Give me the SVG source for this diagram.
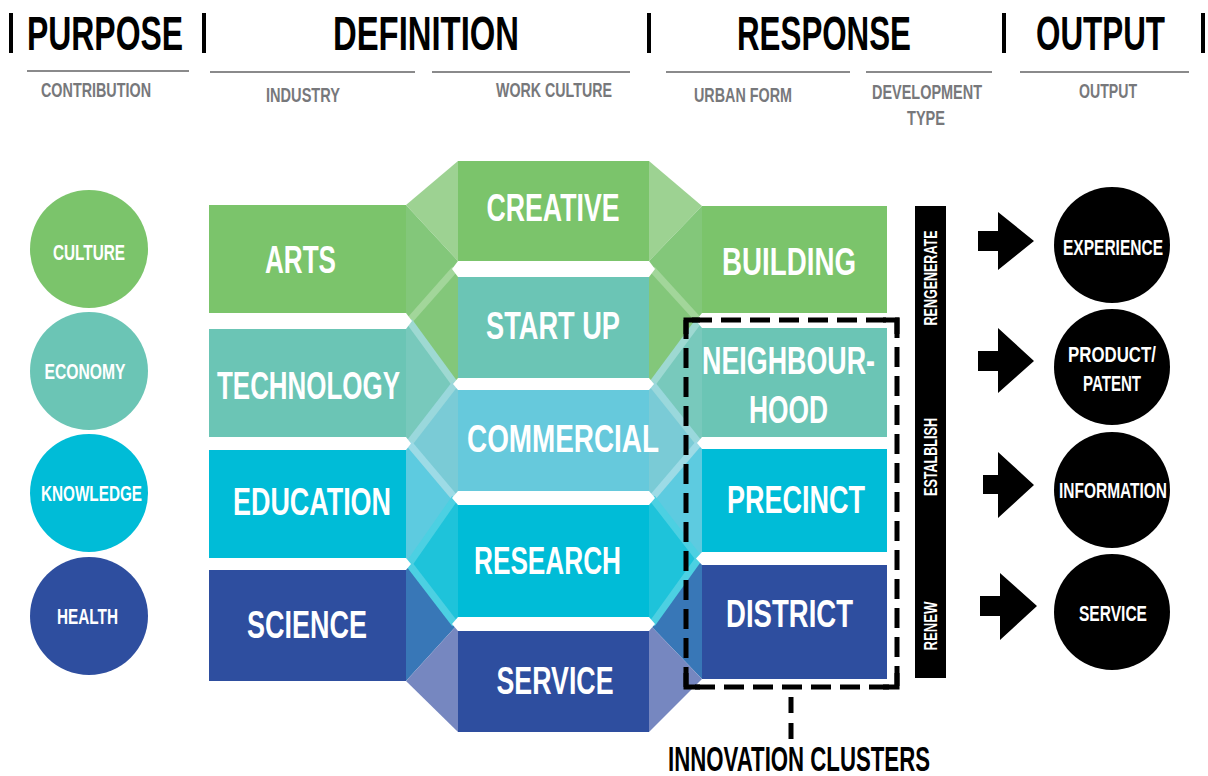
<svg xmlns="http://www.w3.org/2000/svg" width="1208" height="776" viewBox="0 0 1208 776">
<style>
text{font-family:"Liberation Sans",Arial,sans-serif;font-weight:bold;}
.h{font-size:49px;fill:#000;}
.s{font-size:21px;fill:#77787b;}
.b{font-size:38px;fill:#fff;text-anchor:middle;}
.c{font-size:22px;fill:#fff;text-anchor:middle;}
.r{font-size:18px;fill:#fff;text-anchor:middle;}
.rule{stroke:#8a8a8b;stroke-width:2;}
.g{fill:#7bc46b;}.t{fill:#6bc5b5;}.m{fill:#66c9dc;}.y{fill:#00bcd7;}.n{fill:#2e4e9f;}
.st{stroke-width:7;fill:none;}
.dash{fill:none;stroke:#000;stroke-width:5;}
</style>
<rect width="1208" height="776" fill="#fff"/>

<g id="header">
  <rect x="9" y="13" width="4" height="40" fill="#000"/>
  <rect x="202" y="13" width="4" height="40" fill="#000"/>
  <rect x="647" y="13" width="4" height="40" fill="#000"/>
  <rect x="1002" y="13" width="4" height="40" fill="#000"/>
  <rect x="1201" y="13" width="4" height="40" fill="#000"/>
  <text class="h" x="27" y="50" textLength="156" lengthAdjust="spacingAndGlyphs">PURPOSE</text>
  <text class="h" x="333" y="50" textLength="186" lengthAdjust="spacingAndGlyphs">DEFINITION</text>
  <text class="h" x="737" y="50" textLength="174" lengthAdjust="spacingAndGlyphs">RESPONSE</text>
  <text class="h" x="1036" y="50" textLength="129" lengthAdjust="spacingAndGlyphs">OUTPUT</text>
  <line class="rule" x1="27" y1="71" x2="189" y2="71"/>
  <line class="rule" x1="210" y1="72" x2="415" y2="72"/>
  <line class="rule" x1="432" y1="72" x2="630" y2="72"/>
  <line class="rule" x1="666" y1="72" x2="850" y2="72"/>
  <line class="rule" x1="866" y1="72" x2="992" y2="72"/>
  <line class="rule" x1="1020" y1="72" x2="1189" y2="72"/>
  <text class="s" x="41" y="97" textLength="110" lengthAdjust="spacingAndGlyphs">CONTRIBUTION</text>
  <text class="s" x="266" y="102" textLength="74" lengthAdjust="spacingAndGlyphs">INDUSTRY</text>
  <text class="s" x="496" y="97" textLength="116" lengthAdjust="spacingAndGlyphs">WORK CULTURE</text>
  <text class="s" x="694" y="102" textLength="98" lengthAdjust="spacingAndGlyphs">URBAN FORM</text>
  <text class="s" x="872" y="99" textLength="110" lengthAdjust="spacingAndGlyphs">DEVELOPMENT</text>
  <text class="s" x="907" y="125" textLength="38" lengthAdjust="spacingAndGlyphs">TYPE</text>
  <text class="s" x="1079" y="98" textLength="58" lengthAdjust="spacingAndGlyphs">OUTPUT</text>
</g>

<g id="purpose">
  <g id="culture"><circle class="g" cx="89" cy="249" r="59"/><text class="c" x="89" y="260" textLength="72" lengthAdjust="spacingAndGlyphs">CULTURE</text></g>
  <g id="economy"><circle class="t" cx="89" cy="371" r="59"/><text class="c" x="85" y="379" textLength="81" lengthAdjust="spacingAndGlyphs">ECONOMY</text></g>
  <g id="knowledge"><circle class="y" cx="89" cy="493" r="59"/><text class="c" x="91.5" y="501" textLength="101" lengthAdjust="spacingAndGlyphs">KNOWLEDGE</text></g>
  <g id="health"><circle class="n" cx="89" cy="616" r="59"/><text class="c" x="87.5" y="624" textLength="61" lengthAdjust="spacingAndGlyphs">HEALTH</text></g>
</g>

<g id="connectors">
  <!-- left wedges -->
  <polygon points="406,205 458,161 458,261" fill="#9dd292"/>
  <polygon points="406,205 458,261 458,269 406,321" fill="#83c77a"/>
  <polygon points="406,321 458,269 458,384" fill="#83c77a"/>
  <polygon points="406,321 458,384 406,443.5" fill="#78c9bc"/>
  <polygon points="406,443.5 458,384 458,498" fill="#7acbd6"/>
  <polygon points="406,443.5 458,498 406,564" fill="#5dcbe0"/>
  <polygon points="406,564 458,498 458,624" fill="#1ec3da"/>
  <polygon points="406,564 458,624 406,681" fill="#3877b7"/>
  <polygon points="406,681 458,624 458,732" fill="#7687c0"/>
  <!-- right wedges -->
  <polygon points="649,161 702,206 649,261" fill="#9dd292"/>
  <polygon points="649,261 702,206 702,320.5 649,269" fill="#83c77a"/>
  <polygon points="649,269 702,320.5 649,384" fill="#83c77a"/>
  <polygon points="649,384 702,320.5 702,443" fill="#78c9bc"/>
  <polygon points="649,384 702,443 649,498" fill="#7acbd6"/>
  <polygon points="649,498 702,443 702,558.5" fill="#5dcbe0"/>
  <polygon points="649,498 702,558.5 649,624" fill="#1ec3da"/>
  <polygon points="649,624 702,558.5 702,679" fill="#3877b7"/>
  <polygon points="649,624 702,679 649,732" fill="#7687c0"/>
  <!-- stripes -->
  <line class="st" x1="409" y1="321" x2="455" y2="269" stroke="#a2d69a"/>
  <line class="st" x1="409" y1="321" x2="455" y2="384" stroke="#9ed9d2"/>
  <line class="st" x1="409" y1="443.5" x2="455" y2="384" stroke="#9ad8dc"/>
  <line class="st" x1="409" y1="443.5" x2="455" y2="498" stroke="#9ddbe6"/>
  <line class="st" x1="409" y1="564" x2="455" y2="498" stroke="#4cd0e2"/>
  <line class="st" x1="409" y1="564" x2="455" y2="624" stroke="#4cd0e2"/>
  <line class="st" x1="652" y1="269" x2="699" y2="320.5" stroke="#a2d69a"/>
  <line class="st" x1="699" y1="320.5" x2="652" y2="384" stroke="#9ed9d2"/>
  <line class="st" x1="652" y1="384" x2="699" y2="443" stroke="#9ad8dc"/>
  <line class="st" x1="699" y1="443" x2="652" y2="498" stroke="#9ddbe6"/>
  <line class="st" x1="652" y1="498" x2="699" y2="558.5" stroke="#4cd0e2"/>
  <line class="st" x1="699" y1="558.5" x2="652" y2="624" stroke="#4cd0e2"/>
  <!-- white notches -->
  <g fill="#fff">
    <polygon points="406,313 412,321 406,329"/>
    <polygon points="406,437 411,443.5 406,450"/>
    <polygon points="406,558 411,564 406,570"/>
    <polygon points="458,261 452,269 458,277"/>
    <polygon points="458,378 453,384 458,390"/>
    <polygon points="458,491 452,498 458,505"/>
    <polygon points="458,617 452,624 458,631"/>
    <polygon points="649,261 655,269 649,277"/>
    <polygon points="649,378 654,384 649,390"/>
    <polygon points="649,491 655,498 649,505"/>
    <polygon points="649,617 655,624 649,631"/>
    <polygon points="702,313 696,320.5 702,328"/>
    <polygon points="702,437 697,443 702,449"/>
    <polygon points="702,552 696,558.5 702,565"/>
  </g>
  <!-- output arrows -->
  <g fill="#000">
    <polygon points="978,231 998,231 998,212 1034,241 998,270 998,251 978,251"/>
    <polygon points="978,351 998,351 998,328 1034,361 998,393 998,371 978,371"/>
    <polygon points="983,475 998,475 998,452 1034,485 998,518 998,494 983,494"/>
    <polygon points="980,596 1000,596 1000,573 1037,606 1000,640 1000,616 980,616"/>
  </g>
  <line x1="791" y1="697" x2="791" y2="741" stroke="#000" stroke-width="5" stroke-dasharray="16 10"/>
</g>

<g id="industry">
  <g id="arts"><rect class="g" x="209" y="205" width="197" height="108"/><text class="b" x="300.5" y="273" textLength="71" lengthAdjust="spacingAndGlyphs">ARTS</text></g>
  <g id="technology"><rect class="t" x="209" y="329" width="197" height="108"/><text class="b" x="308.5" y="399" textLength="183" lengthAdjust="spacingAndGlyphs">TECHNOLOGY</text></g>
  <g id="education"><rect class="y" x="209" y="450" width="197" height="108"/><text class="b" x="312" y="515" textLength="158" lengthAdjust="spacingAndGlyphs">EDUCATION</text></g>
  <g id="science"><rect class="n" x="209" y="570" width="197" height="111"/><text class="b" x="307" y="638" textLength="120" lengthAdjust="spacingAndGlyphs">SCIENCE</text></g>
</g>

<g id="work-culture">
  <g id="creative"><rect class="g" x="458" y="161" width="191" height="100"/><text class="b" x="553" y="221" textLength="133" lengthAdjust="spacingAndGlyphs">CREATIVE</text></g>
  <g id="start-up"><rect class="t" x="458" y="277" width="191" height="101"/><text class="b" x="553" y="339" textLength="134" lengthAdjust="spacingAndGlyphs">START UP</text></g>
  <g id="commercial"><rect class="m" x="458" y="390" width="191" height="101"/><text class="b" x="563" y="452" textLength="192" lengthAdjust="spacingAndGlyphs">COMMERCIAL</text></g>
  <g id="research"><rect class="y" x="458" y="505" width="191" height="112"/><text class="b" x="547.5" y="574" textLength="147" lengthAdjust="spacingAndGlyphs">RESEARCH</text></g>
  <g id="service-wc"><rect class="n" x="458" y="631" width="191" height="101"/><text class="b" x="555" y="694" textLength="117" lengthAdjust="spacingAndGlyphs">SERVICE</text></g>
</g>

<g id="urban-form">
  <g id="building"><rect class="g" x="702" y="206" width="185" height="107"/><text class="b" x="789" y="275" textLength="134" lengthAdjust="spacingAndGlyphs">BUILDING</text></g>
  <g id="neighbourhood"><rect class="t" x="702" y="328" width="185" height="109"/><text class="b" x="788.5" y="374" textLength="173" lengthAdjust="spacingAndGlyphs">NEIGHBOUR-</text><text class="b" x="788.5" y="423" textLength="79" lengthAdjust="spacingAndGlyphs">HOOD</text></g>
  <g id="precinct"><rect class="y" x="702" y="449" width="185" height="103"/><text class="b" x="796" y="513" textLength="138" lengthAdjust="spacingAndGlyphs">PRECINCT</text></g>
  <g id="district"><rect class="n" x="702" y="565" width="185" height="114"/><text class="b" x="789.5" y="627" textLength="127" lengthAdjust="spacingAndGlyphs">DISTRICT</text></g>
</g>

<g id="innovation-clusters">
  <rect class="dash" x="686" y="320" width="211" height="367" stroke-dasharray="20 9" stroke-dashoffset="-6"/>
  <polyline class="dash" points="686,334 686,320 700,320"/>
  <polyline class="dash" points="883,320 897,320 897,334"/>
  <polyline class="dash" points="897,673 897,687 883,687"/>
  <polyline class="dash" points="700,687 686,687 686,673"/>
  <text x="799" y="771" font-size="35" fill="#000" text-anchor="middle" textLength="262" lengthAdjust="spacingAndGlyphs">INNOVATION CLUSTERS</text>
</g>

<g id="development-type">
  <rect x="915" y="206" width="31" height="472" fill="#000"/>
  <text class="r" transform="translate(937,278) rotate(-90)" textLength="95" lengthAdjust="spacingAndGlyphs">RENGENERATE</text>
  <text class="r" transform="translate(937,457) rotate(-90)" textLength="78" lengthAdjust="spacingAndGlyphs">ESTALBLISH</text>
  <text class="r" transform="translate(937,626) rotate(-90)" textLength="49" lengthAdjust="spacingAndGlyphs">RENEW</text>
</g>

<g id="output">
  <g id="experience"><circle cx="1112" cy="245" r="58" fill="#000"/><text class="c" x="1113" y="255" textLength="100" lengthAdjust="spacingAndGlyphs">EXPERIENCE</text></g>
  <g id="product-patent"><circle cx="1112" cy="367" r="58" fill="#000"/><text class="c" x="1112" y="362" textLength="88" lengthAdjust="spacingAndGlyphs">PRODUCT/</text><text class="c" x="1112" y="391" textLength="58" lengthAdjust="spacingAndGlyphs">PATENT</text></g>
  <g id="information"><circle cx="1112" cy="490" r="58" fill="#000"/><text class="c" x="1113" y="498" textLength="108" lengthAdjust="spacingAndGlyphs">INFORMATION</text></g>
  <g id="service-out"><circle cx="1112" cy="612" r="58" fill="#000"/><text class="c" x="1113" y="621" textLength="68" lengthAdjust="spacingAndGlyphs">SERVICE</text></g>
</g>
</svg>
